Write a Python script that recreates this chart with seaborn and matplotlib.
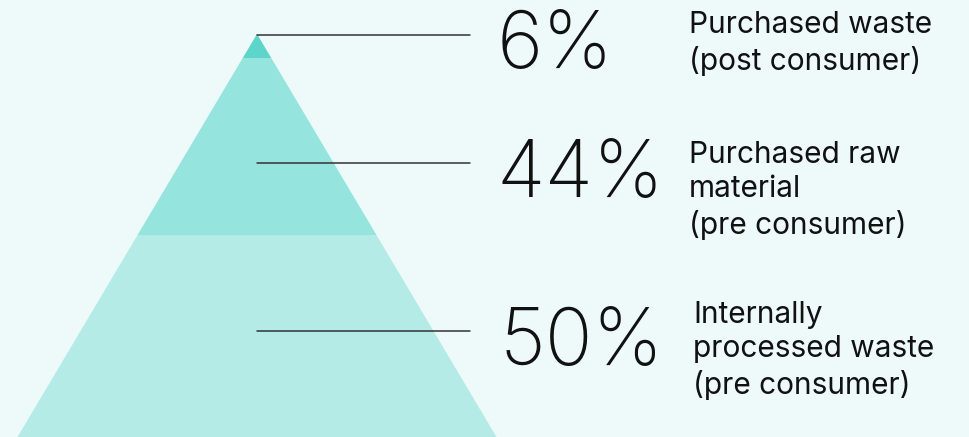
import numpy as np
import matplotlib
matplotlib.use("Agg")
import matplotlib.pyplot as plt
import seaborn as sns

# shares of recycled input, top of the pyramid first
segments = ["Purchased waste", "Purchased raw material", "Internally processed waste"]
shares = [6, 44, 50]
pct_labels = ["6%", "44%", "50%"]
labels = ["Purchased waste\n(post consumer)",
          "Purchased raw\nmaterial\n(pre consumer)",
          "Internally\nprocessed waste\n(pre consumer)"]
colors = ["#5dd5ca", "#95e4dd", "#b4ebe6"]
bg = "#eefafa"

W, H = 969, 437
PX_PER_PCT = 4.03      # vertical pixels per percent
APEX_X = 257
HALF_BASE = 239.5


def py(p):
    # pixel row (from the top) -> data y
    return (H - p) / PX_PER_PCT


sns.set_theme(style="white", rc={"axes.facecolor": bg, "figure.facecolor": bg})
plt.rcParams["font.family"] = ["Inter", "DejaVu Sans"]

fig = plt.figure(figsize=(W / 100, H / 100), dpi=100)
ax = fig.add_axes([0, 0, 1, 1])
ax.set_xlim(-APEX_X, W - APEX_X)
ax.set_ylim(0, H / PX_PER_PCT)
ax.axis("off")

# stack bands from the base up
tops = np.cumsum(shares[::-1])
bottoms = tops - np.array(shares[::-1])
for lo, hi, c in zip(bottoms, tops, colors[::-1]):
    w_lo = HALF_BASE * (1 - lo / 100)
    w_hi = HALF_BASE * (1 - hi / 100)
    ax.fill([-w_lo, w_lo, w_hi, -w_hi], [lo, lo, hi, hi], color=c, lw=0)

# connectors and labels
line_rows = [34.5, 163, 331]
pct_base = [68, 197, 365]
lab_top = [11, 141, 301]
lab_x = [689, 689, 693]
pct_x = [497, 496, 500]
for i in range(3):
    ax.plot([0, 470 - APEX_X], [py(line_rows[i])] * 2, color="#333333", lw=1.1)
    ax.text(pct_x[i] - APEX_X, py(pct_base[i]), pct_labels[i], fontsize=57,
            fontweight="light", color="#111111", va="baseline", ha="left")
    ax.text(lab_x[i] - APEX_X, py(lab_top[i]), labels[i], fontsize=21.5,
            color="#111111", va="top", ha="left", linespacing=1.28)

fig.savefig("out.png", dpi=100, facecolor=bg)
